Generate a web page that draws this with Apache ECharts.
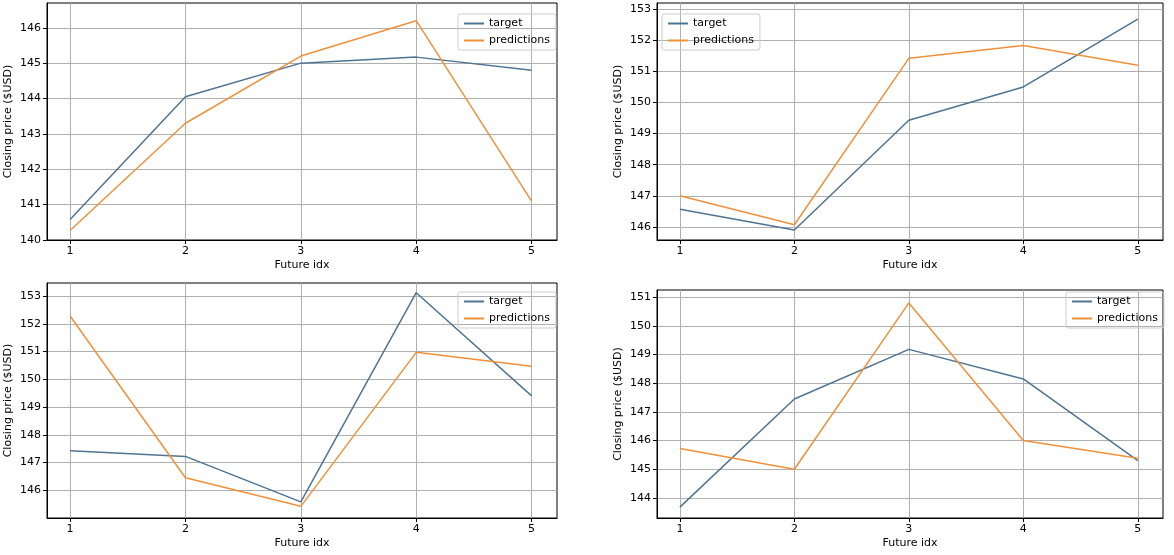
<!DOCTYPE html>
<html><head><meta charset="utf-8">
<script src="https://cdn.jsdelivr.net/npm/echarts@6/dist/echarts.min.js"></script>
<style>html,body{margin:0;padding:0;background:#fff}#c{width:1174px;height:555px}</style>
</head><body><div id="c"></div>
<script>
// future index on x
const idx = [1, 2, 3, 4, 5]

// four panels, values
const target1 = [140.58, 144.05, 145.0, 145.17, 144.8]
const preds1 = [140.27, 143.3, 145.2, 146.2, 141.1]
const target2 = [146.57, 145.9, 149.43, 150.5, 152.68]
const preds2 = [147.0, 146.07, 151.42, 151.83, 151.2]
const target3 = [147.42, 147.22, 145.58, 153.12, 149.4]
const preds3 = [152.28, 146.45, 145.42, 150.97, 150.47]
const target4 = [143.68, 147.45, 149.18, 148.15, 145.3]
const preds4 = [145.72, 145.0, 150.8, 146.0, 145.38]

const yTicks1 = [140, 141, 142, 143, 144, 145, 146]
const yTicks2 = [146, 147, 148, 149, 150, 151, 152, 153]
const yTicks3 = [146, 147, 148, 149, 150, 151, 152, 153]
const yTicks4 = [144, 145, 146, 147, 148, 149, 150, 151]

const panels = [
  { t: target1, p: preds1, ticks: yTicks1, ymin: 140, ymax: 146.7, grid: { left: 47, top: 3, width: 510, height: 237 }, legend: { left: 458, top: 14 } },
  { t: target2, p: preds2, ticks: yTicks2, ymin: 145.58, ymax: 153.2, grid: { left: 657, top: 3, width: 506, height: 237 }, legend: { left: 662, top: 14 } },
  { t: target3, p: preds3, ticks: yTicks3, ymin: 145.0, ymax: 153.47, grid: { left: 47, top: 283, width: 510, height: 235 }, legend: { left: 458, top: 292 } },
  { t: target4, p: preds4, ticks: yTicks4, ymin: 143.3, ymax: 151.25, grid: { left: 657, top: 290, width: 506, height: 228 }, legend: { left: 1066, top: 292 } }
]

const font = 'DejaVu Sans'
const gridLine = { show: true, lineStyle: { color: '#b0b0b0', width: 1 } }
const box = { show: true, onZero: false, lineStyle: { color: '#000', width: 1 } }

const option = { animation: false, textStyle: { fontFamily: font }, grid: [], xAxis: [], yAxis: [], series: [], legend: [] }

panels.forEach((pn, i) => {
  option.grid.push(Object.assign({ show: true, borderColor: '#000', borderWidth: 1 }, pn.grid))
  option.xAxis.push({
    type: 'value', gridIndex: i, min: 0.8, max: 5.22,
    name: 'Future idx', nameLocation: 'middle', nameGap: 20,
    nameTextStyle: { fontSize: 11, color: '#000', fontFamily: font },
    axisLine: box,
    axisTick: { show: true, customValues: idx, length: 4, lineStyle: { color: '#000' } },
    axisLabel: { customValues: idx, fontSize: 11, color: '#000', fontFamily: font, margin: 6 },
    splitLine: gridLine
  })
  option.yAxis.push({
    type: 'value', gridIndex: i, min: pn.ymin, max: pn.ymax,
    name: 'Closing price ($USD)', nameLocation: 'middle', nameGap: 33,
    nameTextStyle: { fontSize: 11, color: '#000', fontFamily: font },
    axisLine: box,
    axisTick: { show: true, customValues: pn.ticks, length: 4, lineStyle: { color: '#000' } },
    axisLabel: { customValues: pn.ticks, fontSize: 11, color: '#000', fontFamily: font, margin: 6 },
    splitLine: gridLine
  })
  option.series.push({
    name: 'target', type: 'line', xAxisIndex: i, yAxisIndex: i, symbol: 'none',
    data: idx.map((x, k) => [x, pn.t[k]]), lineStyle: { color: '#4f7491', width: 1.5 }, itemStyle: { color: '#4f7491' }
  })
  option.series.push({
    name: 'predictions', type: 'line', xAxisIndex: i, yAxisIndex: i, symbol: 'none',
    data: idx.map((x, k) => [x, pn.p[k]]), lineStyle: { color: '#f0913a', width: 1.5 }, itemStyle: { color: '#f0913a' }
  })
  option.legend.push({
    left: pn.legend.left, top: pn.legend.top, orient: 'vertical',
    data: ['target', 'predictions'], itemWidth: 20, itemHeight: 2, itemGap: 6,
    icon: 'rect', borderColor: '#ccc', borderWidth: 1, borderRadius: 2, padding: [4, 6],
    textStyle: { fontSize: 11, color: '#000', fontFamily: font }, selectedMode: false
  })
})

echarts.init(document.getElementById('c')).setOption(option)
</script></body></html>
